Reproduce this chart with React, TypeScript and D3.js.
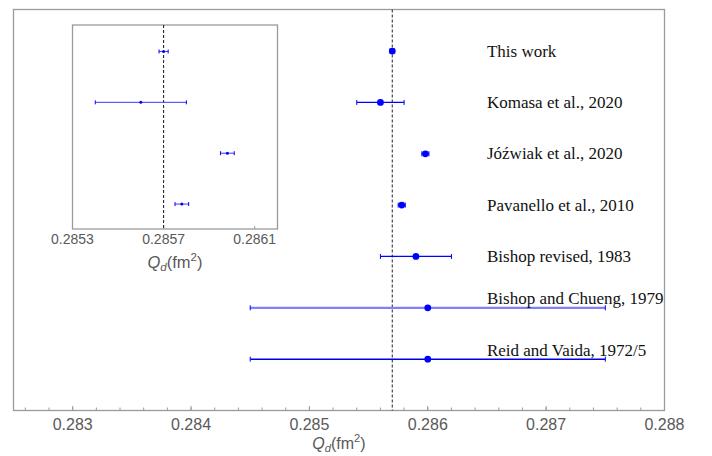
import React from 'react';
import * as d3 from 'd3';

// Deuteron quadrupole moment, one row per study (top to bottom)
const studies = [
  'This work',
  'Komasa et al., 2020',
  'Jóźwiak et al., 2020',
  'Pavanello et al., 2010',
  'Bishop revised, 1983',
  'Bishop and Chueng, 1979',
  'Reid and Vaida, 1972/5',
];
const qValues = [0.2857, 0.2856, 0.28598, 0.28578, 0.2859, 0.286, 0.286];
const qErrors = [0.00002, 0.0002, 0.00003, 0.00003, 0.0003, 0.0015, 0.0015];
const barColors = ['#0000ff', '#0000ff', '#0000ff', '#0000ff', '#0000ff', '#8080ff', '#0000e6'];
const barWidths = [1.2, 1.2, 1.2, 1.2, 1.2, 2.2, 1.5];

const referenceValue = 0.2857;
const labelPosition = 0.2865;
const mainTicks = [0.283, 0.284, 0.285, 0.286, 0.287, 0.288];
const insetTicks = [0.2853, 0.2857, 0.2861];
const insetRows = 4; // the four most precise results are shown in the inset

const W = 712;
const H = 456;

const axisGray = '#9a9a9a';
const labelGray = '#595959';

const AxisTitle: React.FC<{ x: number; y: number; size: number }> = ({ x, y, size }) => (
  <text x={x} y={y} textAnchor="middle" fontFamily="'Liberation Sans', Arial, sans-serif" fontSize={size} fill={labelGray}>
    <tspan fontStyle="italic">Q</tspan>
    <tspan fontStyle="italic" fontSize={size * 0.7} dy={3}>d</tspan>
    <tspan dy={-3}>(fm</tspan>
    <tspan fontSize={size * 0.7} dy={-7}>2</tspan>
    <tspan dy={7}>)</tspan>
  </text>
);

const App: React.FC = () => {
  const rowIndex = studies.map((_, i) => studies.length - i); // 7 .. 1

  // main panel
  const x = d3.scaleLinear().domain([0.2825, 0.288]).range([13.5, 664.5]);
  const y = d3.scaleLinear().domain([0, 7.81]).range([410.5, 9.5]);
  const minor = d3.range(0.2826, 0.28785, 0.0002);

  // inset panel
  const xi = d3.scaleLinear().domain([0.2853, 0.2862]).range([72.5, 277.5]);
  const yi = d3.scaleLinear().domain([3.51, 7.52]).range([229, 25]);

  return (
    <svg width={W} height={H} style={{ position: 'absolute', left: 0, top: 0, background: '#fff' }}>
      {/* main frame */}
      <rect x={x.range()[0]} y={y.range()[1]} width={x.range()[1] - x.range()[0]} height={y.range()[0] - y.range()[1]}
        fill="none" stroke={axisGray} strokeWidth={1.3} />
      {minor.map((t, i) => (
        <line key={'m' + i} x1={x(t)} x2={x(t)} y1={y.range()[0]} y2={y.range()[0] - 3} stroke={axisGray} strokeWidth={1} />
      ))}
      {mainTicks.map(t => (
        <g key={t}>
          <line x1={x(t)} x2={x(t)} y1={y.range()[0]} y2={y.range()[0] - 4.5} stroke={axisGray} strokeWidth={1} />
          <text x={x(t)} y={430} textAnchor="middle" fontFamily="'Liberation Sans', Arial, sans-serif" fontSize={16} fill={labelGray}>
            {d3.format('.3f')(t)}
          </text>
        </g>
      ))}
      <AxisTitle x={(x.range()[0] + x.range()[1]) / 2} y={449} size={16} />

      {/* reference line */}
      <line x1={x(referenceValue)} x2={x(referenceValue)} y1={y.range()[1]} y2={y.range()[0]}
        stroke="#222" strokeWidth={1} strokeDasharray="3,2" />

      {/* main error bars */}
      {studies.map((s, i) => {
        const cy = y(rowIndex[i]);
        const x0 = x(qValues[i] - qErrors[i]);
        const x1 = x(qValues[i] + qErrors[i]);
        const raised = qValues[i] + qErrors[i] > labelPosition;
        return (
          <g key={s}>
            <line x1={x0} x2={x1} y1={cy} y2={cy} stroke={barColors[i]} strokeWidth={barWidths[i]} />
            <line x1={x0} x2={x0} y1={cy - 2.5} y2={cy + 2.5} stroke="#0000ff" strokeWidth={1} />
            <line x1={x1} x2={x1} y1={cy - 2.5} y2={cy + 2.5} stroke="#0000ff" strokeWidth={1} />
            <circle cx={x(qValues[i])} cy={cy} r={3.4} fill="#0000ff" />
            <text x={x(labelPosition)} y={raised ? cy - 3.5 : cy + 5.5} fontFamily="'Liberation Serif', 'Times New Roman', serif"
              fontSize={17} fill="#111">
              {s}
            </text>
          </g>
        );
      })}

      {/* inset */}
      <rect x={xi.range()[0]} y={yi.range()[1]} width={xi.range()[1] - xi.range()[0]} height={yi.range()[0] - yi.range()[1]}
        fill="#fff" stroke={axisGray} strokeWidth={1.3} />
      {insetTicks.map(t => (
        <g key={t}>
          <line x1={xi(t)} x2={xi(t)} y1={yi.range()[0]} y2={yi.range()[0] - 3} stroke={axisGray} strokeWidth={1} />
          <text x={xi(t)} y={244} textAnchor="middle" fontFamily="'Liberation Sans', Arial, sans-serif" fontSize={14} fill={labelGray}>
            {d3.format('.4f')(t)}
          </text>
        </g>
      ))}
      <AxisTitle x={(xi.range()[0] + xi.range()[1]) / 2} y={268} size={16.5} />
      <line x1={xi(referenceValue)} x2={xi(referenceValue)} y1={yi.range()[1]} y2={yi.range()[0]}
        stroke="#111" strokeWidth={1} strokeDasharray="3,2" />
      {studies.slice(0, insetRows).map((s, i) => {
        const cy = yi(rowIndex[i]);
        const x0 = xi(qValues[i] - qErrors[i]);
        const x1 = xi(qValues[i] + qErrors[i]);
        return (
          <g key={'i' + s}>
            <line x1={x0} x2={x1} y1={cy} y2={cy} stroke="#3a3aff" strokeWidth={1} />
            <line x1={x0} x2={x0} y1={cy - 2} y2={cy + 2} stroke="#0000ff" strokeWidth={1} />
            <line x1={x1} x2={x1} y1={cy - 2} y2={cy + 2} stroke="#0000ff" strokeWidth={1} />
            <circle cx={xi(qValues[i])} cy={cy} r={1.5} fill="#0000ff" />
          </g>
        );
      })}
    </svg>
  );
};

export default App;
